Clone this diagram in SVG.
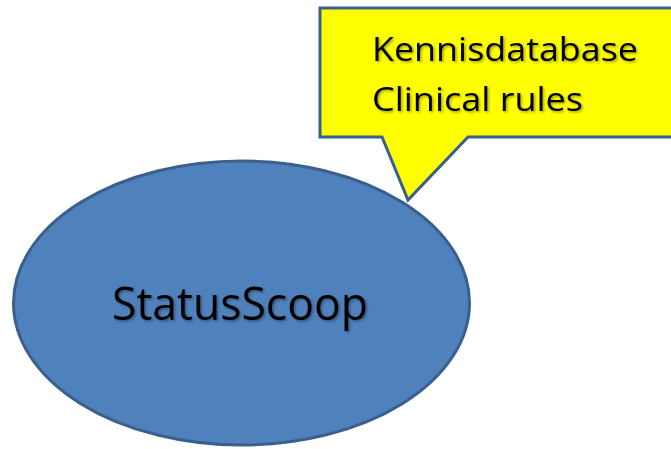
<svg xmlns="http://www.w3.org/2000/svg" width="671" height="449" viewBox="0 0 671 449">
  <defs>
    <filter id="sh" x="-10%" y="-20%" width="130%" height="160%">
      <feDropShadow dx="1.5" dy="1.5" stdDeviation="1" flood-color="#000" flood-opacity="0.35"/>
    </filter>
  </defs>
  <style>
    .shape { stroke: #3A5F8C; stroke-width: 3; stroke-linejoin: miter; }
    .lbl { font-family: "Open Sans", "Noto Sans", "Liberation Sans", sans-serif; fill: #000; filter: url(#sh); }
  </style>
  <rect width="671" height="449" fill="#FFFFFF"/>
  <g id="callout">
    <path class="shape" d="M320,8 H680 V137 H468 L408,200 L382,137 H320 Z" fill="#FFFF00"/>
    <text class="lbl" x="372" y="61" font-size="33" textLength="266" lengthAdjust="spacingAndGlyphs">Kennisdatabase</text>
    <text class="lbl" x="372" y="111" font-size="33" textLength="211" lengthAdjust="spacingAndGlyphs">Clinical rules</text>
  </g>
  <g id="statusscoop">
    <ellipse class="shape" cx="241.5" cy="303" rx="228" ry="142" fill="#4F81BD"/>
    <text class="lbl" x="240" y="320" font-size="46" text-anchor="middle" textLength="256" lengthAdjust="spacingAndGlyphs">StatusScoop</text>
  </g>
  <g id="connectors"/>
</svg>
